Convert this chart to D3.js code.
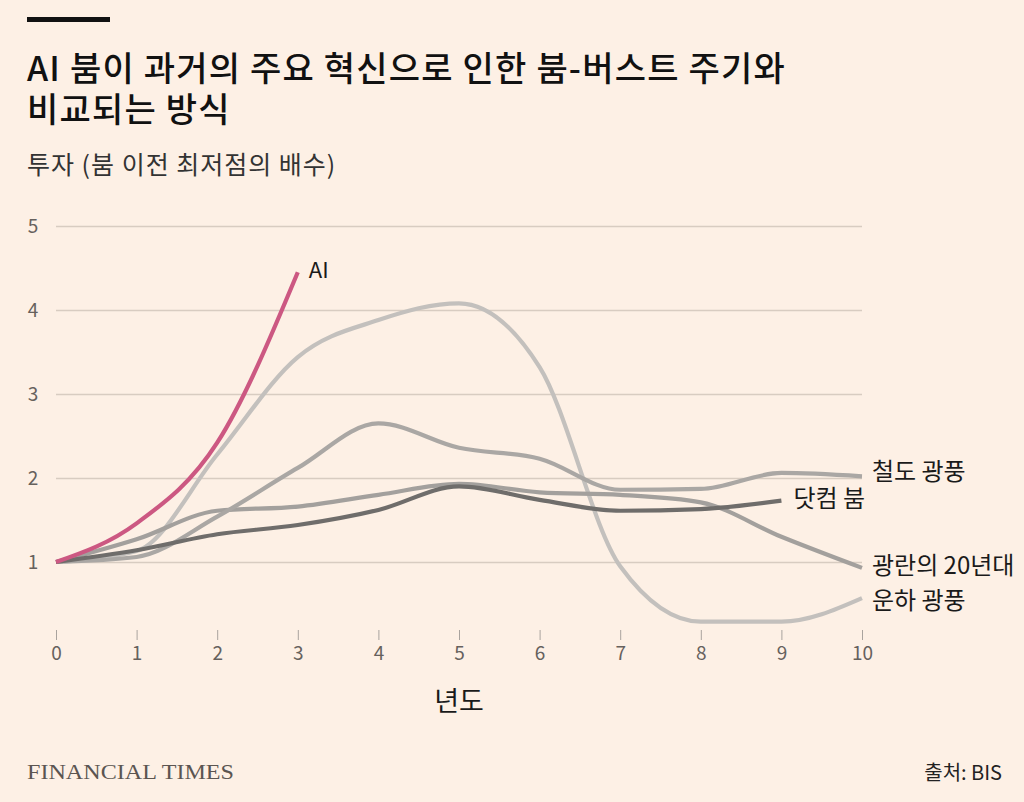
<!DOCTYPE html>
<meta charset="utf-8" />
<style>
  body { margin: 0; background: #fdf0e5; }
  svg { display: block; }
  .title { font-family: "Noto Sans CJK KR", sans-serif; font-size: 34px; font-weight: 500; fill: #111; letter-spacing: 1.2px; }
  .subtitle { font-family: "Noto Sans CJK KR", sans-serif; font-size: 25px; fill: #333; letter-spacing: 1px; }
  .tick text { font-family: "Noto Sans CJK KR", sans-serif; font-size: 19px; fill: #66615d; }
  .label { font-family: "Noto Sans CJK KR", sans-serif; font-size: 24px; fill: #1a1a1a; }
</style>
<body>
<script src="https://d3js.org/d3.v7.min.js"></script>
<script>
  // data: investment, multiple of pre-boom trough
  var years = [0, 1, 2, 3, 4, 5, 6, 7, 8, 9, 10];
  var ai = [1, 1.46, 2.42, 4.45];
  var canal = [1, 1.13, 2.28, 3.44, 3.88, 4.08, 3.32, 0.95, 0.29, 0.29, 0.57];
  var railway = [1, 1.06, 1.54, 2.12, 2.65, 2.36, 2.23, 1.86, 1.87, 2.06, 2.02];
  var roaring = [1, 1.27, 1.61, 1.66, 1.8, 1.93, 1.83, 1.8, 1.71, 1.3, 0.93];
  var dotcom = [1, 1.14, 1.33, 1.44, 1.62, 1.9, 1.74, 1.61, 1.63, 1.73];
  var yTicks = [1, 2, 3, 4, 5];

  var series = [
    { name: "운하 광풍", values: canal, color: "#c3c0bd", dx: 10, dy: 4 },
    { name: "광란의 20년대", values: roaring, color: "#a3a09d", dx: 10, dy: 0 },
    { name: "철도 광풍", values: railway, color: "#aaa7a4", dx: 10, dy: -3 },
    { name: "닷컴 붐", values: dotcom, color: "#6f6d6b", dx: 12, dy: 0 },
    { name: "AI", values: ai, color: "#cc5882", dx: 11, dy: 0 }
  ];

  var width = 1024, height = 802;
  var svg = d3.select("body").append("svg")
    .attr("width", width).attr("height", height)
    .style("background", "#fdf0e5");

  // header
  svg.append("rect").attr("x", 27).attr("y", 17).attr("width", 83).attr("height", 5).attr("fill", "#111");
  svg.append("text").attr("class", "title").attr("x", 27).attr("y", 81)
    .text("AI 붐이 과거의 주요 혁신으로 인한 붐-버스트 주기와");
  svg.append("text").attr("class", "title").attr("x", 27).attr("y", 122)
    .text("비교되는 방식");
  svg.append("text").attr("class", "subtitle").attr("x", 27).attr("y", 174)
    .text("투자 (붐 이전 최저점의 배수)");

  var x = d3.scaleLinear().domain([0, 10]).range([56, 862]);
  var y = d3.scaleLinear().domain([1, 5]).range([562, 226]);

  // y grid + labels
  var yAxis = svg.append("g").attr("transform", "translate(56,0)")
    .call(d3.axisLeft(y).tickValues(yTicks).tickSize(-(862 - 56)).tickFormat(d3.format("d")));
  yAxis.select(".domain").remove();
  yAxis.selectAll(".tick line").attr("stroke", "#d8ccc1").attr("stroke-width", 1.5);
  yAxis.selectAll(".tick text").attr("x", -23).attr("text-anchor", "middle");

  // x axis
  var xAxis = svg.append("g").attr("transform", "translate(0,630)")
    .call(d3.axisBottom(x).tickValues(years).tickSize(10).tickPadding(7).tickFormat(d3.format("d")));
  xAxis.select(".domain").remove();
  xAxis.selectAll(".tick line").attr("stroke", "#a9a39e").attr("stroke-width", 1);

  svg.append("text").attr("class", "label").attr("x", 459).attr("y", 711)
    .attr("text-anchor", "middle").style("font-size", "27px").text("년도");

  var line = d3.line()
    .x(function(d, i) { return x(years[i]); })
    .y(function(d) { return y(d); })
    .curve(d3.curveMonotoneX);

  svg.selectAll(".series").data(series).enter()
    .append("path")
    .attr("class", "series")
    .attr("d", function(d) { return line(d.values); })
    .attr("fill", "none")
    .attr("stroke", function(d) { return d.color; })
    .attr("stroke-width", 4.2)
    .attr("stroke-linejoin", "round");

  svg.selectAll(".label.end").data(series).enter()
    .append("text")
    .attr("class", "label end")
    .attr("x", function(d) { return x(d.values.length - 1) + d.dx; })
    .attr("y", function(d) { return y(d.values[d.values.length - 1]) + d.dy; })
    .attr("dominant-baseline", "middle")
    .style("font-size", function(d) { return d.name === "AI" ? "22px" : null; })
    .text(function(d) { return d.name; });

  // footer
  svg.append("text").attr("x", 27).attr("y", 779)
    .attr("textLength", 207).attr("lengthAdjust", "spacingAndGlyphs")
    .style("font-family", "Liberation Serif, serif").style("font-size", "22px").style("fill", "#5b5551")
    .text("FINANCIAL TIMES");
  svg.append("text").attr("x", 1002).attr("y", 780).attr("text-anchor", "end")
    .style("font-family", "Noto Sans CJK KR, sans-serif").style("font-size", "20px").style("fill", "#222")
    .text("출처: BIS");
</script>
</body>
